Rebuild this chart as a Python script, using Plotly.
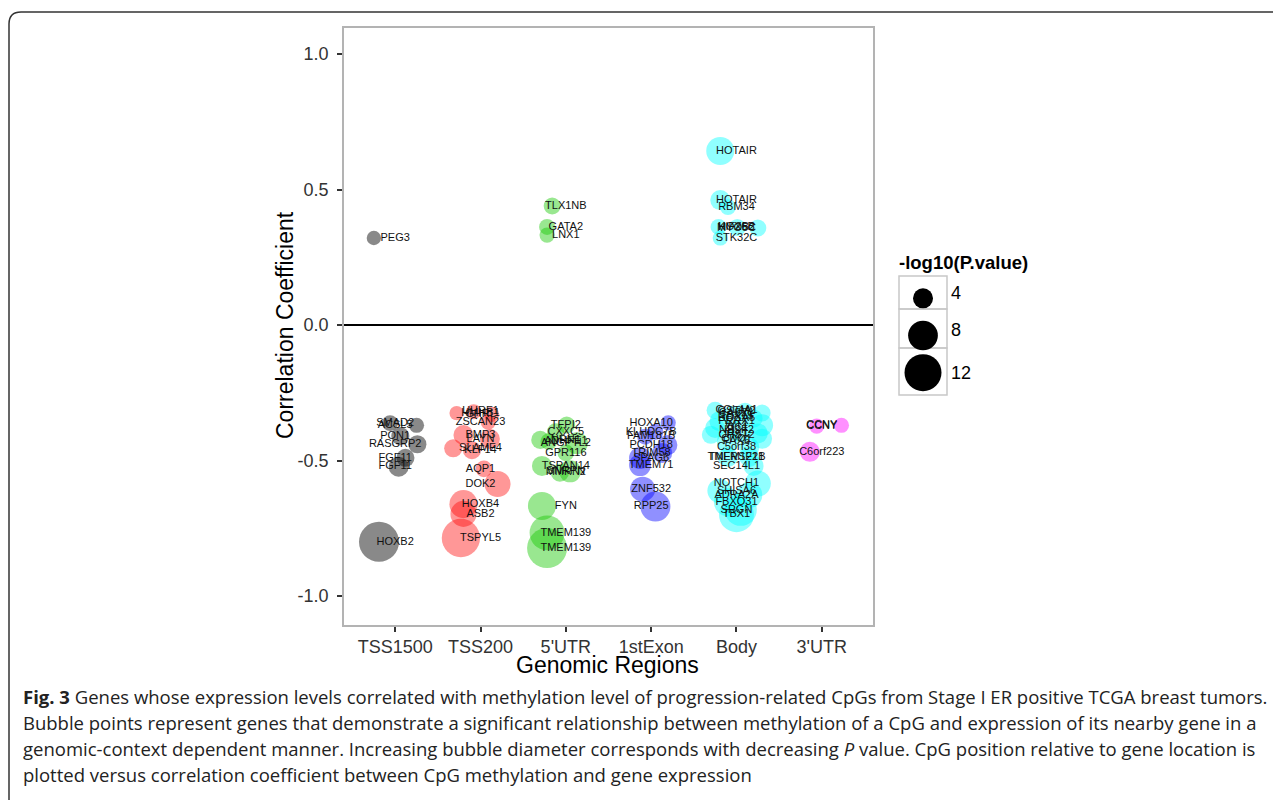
import plotly.graph_objects as go
import numpy as np

W, H = 1281, 800
OFF = 8  # page body margin offset


def px(x):
    return (x - OFF) / W


def py(y):
    return 1 - (y - OFF) / H


# ---------------- data ----------------
regions = ["TSS1500", "TSS200", "5'UTR", "1stExon", "Body", "3'UTR"]
region_colors = ["rgba(0,0,0,0.66)", "rgba(255,0,0,0.58)", "rgba(20,200,0,0.62)",
                 "rgba(0,0,255,0.62)", "rgba(0,255,255,0.62)", "rgba(255,0,255,0.62)"]

tss1500_genes = ["PEG3", "SMAD2", "ACSL5", "PON1", "RASGRP2", "FGF11", "FGF11", "HOXB2"]
tss1500_corr = [0.321, -0.362, -0.370, -0.410, -0.440, -0.490, -0.523, -0.800]
tss1500_logp = [2.4, 2.8, 2.6, 3.4, 3.4, 3.4, 4.0, 13.9]
tss1500_jitter = [-0.25, -0.06, 0.25, 0.06, 0.26, 0.12, 0.04, -0.19]

tss200_genes = ["HMHB1", "UHRF1", "GHRL", "ZSCAN23", "BMP3", "LAYN", "SLAMF4", "KLF14",
                "AQP1", "DOK2", "HOXB4", "ASB2", "TSPYL5"]
tss200_corr = [-0.325, -0.320, -0.330, -0.358, -0.406, -0.421, -0.455, -0.462,
               -0.531, -0.587, -0.661, -0.697, -0.786]
tss200_logp = [2.4, 2.6, 2.6, 2.6, 4.0, 4.0, 3.4, 3.4, 3.0, 6.3, 7.2, 6.3, 12.8]
tss200_jitter = [-0.28, -0.08, 0.13, 0.09, -0.20, 0.11, -0.32, -0.10, 0.04, 0.20, -0.20, -0.20, -0.23]

utr5_genes = ["TLX1NB", "GATA2", "LNX1", "TFPI2", "CXXC5", "NRN1", "ADHFE1", "ANGPTL2",
              "GPR116", "TSPAN14", "SNRPN", "MMRN2", "FYN", "TMEM139", "TMEM139"]
utr5_corr = [0.439, 0.362, 0.332, -0.369, -0.394, -0.424, -0.430, -0.436,
             -0.472, -0.520, -0.540, -0.545, -0.668, -0.767, -0.823]
utr5_logp = [3.1, 2.8, 2.6, 3.1, 3.1, 3.4, 3.0, 4.7, 3.0, 4.0, 4.7, 3.4, 7.2, 10.8, 13.9]
utr5_jitter = [-0.16, -0.22, -0.22, 0.01, -0.12, -0.30, -0.20, 0.13, 0.0, -0.28, 0.05, -0.07,
               -0.28, -0.22, -0.22]

exon1_genes = ["HOXA10", "KLHDC7B", "FAM181B", "PCDH18", "TRIM58", "SPAG6", "TMEM71",
               "ZNF532", "RPP25"]
exon1_corr = [-0.361, -0.394, -0.412, -0.443, -0.472, -0.491, -0.517, -0.606, -0.670]
exon1_logp = [2.6, 2.8, 2.8, 4.0, 4.0, 4.7, 4.7, 5.9, 8.1]
exon1_jitter = [0.20, 0.05, -0.07, 0.19, 0.13, -0.13, -0.13, -0.10, 0.05]

body_genes = ["HOTAIR", "HOTAIR", "RBM34", "HOXB2", "KIF26B", "MYO5C", "STK32C",
              "COL4A1", "GSTM2", "CASZ1", "TBX15", "HOXA5", "PRRX1", "WT1", "ZIC1",
              "NR2F2", "IRX1", "CHST2", "CDO1", "PAX6", "C5orf38", "TNFRSF21", "TMEM121B",
              "SEC14L1", "NOTCH1", "SHISA6", "ADRA2A", "FBXO31", "SRGN", "TBX1"]
body_corr = [0.642, 0.461, 0.435, 0.362, 0.360, 0.358, 0.321,
             -0.315, -0.320, -0.325, -0.335, -0.345, -0.355, -0.370, -0.380,
             -0.390, -0.400, -0.405, -0.420, -0.430, -0.452, -0.487, -0.487,
             -0.520, -0.585, -0.612, -0.627, -0.654, -0.682, -0.700]
body_logp = [7.2, 4.0, 2.8, 2.8, 3.1, 3.1, 2.6,
             3.1, 3.4, 3.1, 4.0, 3.4, 4.0, 4.7, 4.0,
             4.7, 4.0, 3.4, 4.0, 4.7, 4.0, 4.0, 4.0,
             4.0, 6.3, 5.5, 6.3, 7.2, 9.2, 10.8]
body_jitter = [-0.19, -0.19, -0.10, -0.21, 0.01, 0.25, -0.19,
               -0.25, 0.10, 0.30, -0.05, 0.20, -0.20, 0.30, -0.25,
               0.05, 0.25, -0.30, 0.30, -0.10, 0.15, -0.10, 0.15,
               0.20, 0.25, -0.20, 0.15, -0.10, 0.05, 0.0]

utr3_genes = ["CCNY", "CCNY", "C6orf223"]
utr3_corr = [-0.373, -0.370, -0.468]
utr3_logp = [2.6, 2.6, 4.0]
utr3_jitter = [-0.06, 0.23, -0.14]

legend_values = [4, 8, 12]

region_data = [
    (tss1500_genes, tss1500_corr, tss1500_logp, tss1500_jitter),
    (tss200_genes, tss200_corr, tss200_logp, tss200_jitter),
    (utr5_genes, utr5_corr, utr5_logp, utr5_jitter),
    (exon1_genes, exon1_corr, exon1_logp, exon1_jitter),
    (body_genes, body_corr, body_logp, body_jitter),
    (utr3_genes, utr3_corr, utr3_logp, utr3_jitter),
]


def bubble_diameter(v):
    v = np.asarray(v, dtype=float)
    return np.sqrt(np.maximum(121.0 * v - 84.0, 100.0))


fig = go.Figure()

# points
for i, (genes, corr, logp, jit) in enumerate(region_data):
    fig.add_trace(go.Scatter(
        x=[i + j for j in jit], y=corr, mode="markers",
        marker=dict(size=bubble_diameter(logp), color=region_colors[i], line=dict(width=0)),
        hoverinfo="skip", showlegend=False))

# labels
for i, (genes, corr, logp, jit) in enumerate(region_data):
    fig.add_trace(go.Scatter(
        x=[i] * len(genes), y=corr, mode="text", text=genes,
        textposition="middle center",
        textfont=dict(family="Liberation Sans, Arial", size=11, color="#111"),
        hoverinfo="skip", showlegend=False))

# size legend keys
legend_rows_y = [1, 2, 3]
fig.add_trace(go.Scatter(
    x=[0.5] * 3, y=legend_rows_y, mode="markers",
    marker=dict(size=bubble_diameter(legend_values), color="#000000", opacity=1,
                line=dict(width=0)),
    xaxis="x2", yaxis="y2", hoverinfo="skip", showlegend=False))

# ---------------- layout ----------------
plot_l, plot_r, plot_t, plot_b = 344, 873, 28, 625
tick_font = dict(family="Liberation Sans, Arial", size=18, color="#333")

fig.update_layout(
    width=W, height=H,
    margin=dict(l=0, r=0, t=0, b=0),
    paper_bgcolor="white", plot_bgcolor="white",
    xaxis=dict(domain=[px(plot_l), px(plot_r)], range=[-0.6, 5.6],
               tickmode="array", tickvals=list(range(len(regions))), ticktext=regions,
               showgrid=False, zeroline=False, showline=True, mirror=True,
               linecolor="#b3b3b3", linewidth=1.5,
               ticks="outside", ticklen=5, tickwidth=1.5, tickcolor="#333",
               tickfont=tick_font),
    yaxis=dict(domain=[py(plot_b), py(plot_t)], range=[-1.107, 1.096],
               tickmode="array", tickvals=[-1, -0.5, 0, 0.5, 1],
               ticktext=["-1.0", "-0.5", "0.0", "0.5", "1.0"],
               showgrid=False, zeroline=False, showline=True, mirror=True,
               linecolor="#b3b3b3", linewidth=1.5,
               ticks="outside", ticklen=5, tickwidth=1.5, tickcolor="#333",
               ticklabelstandoff=5,
               tickfont=tick_font),
    xaxis2=dict(domain=[px(899), px(947)], range=[0, 1], visible=False, fixedrange=True),
    yaxis2=dict(domain=[py(395), py(276)], range=[3.6, 0.4], visible=False, fixedrange=True,
                anchor="x2"),
)

shapes = []
# zero line
shapes.append(dict(type="line", xref="paper", yref="y", x0=px(plot_l), x1=px(plot_r),
                   y0=0, y1=0, line=dict(color="black", width=1.8), layer="above"))
# legend boxes
box_edges = [276, 309, 348, 395]
for k in range(3):
    shapes.append(dict(type="rect", xref="paper", yref="paper",
                       x0=px(899), x1=px(947), y0=py(box_edges[k + 1]), y1=py(box_edges[k]),
                       line=dict(color="#c8c8c8", width=1.5), fillcolor="rgba(0,0,0,0)",
                       layer="below"))
# outer rounded frame
path = (f"M {px(9)},{py(830)} L {px(9)},{py(24)} Q {px(9)},{py(12)} {px(21)},{py(12)} "
        f"L {px(1300)},{py(12)}")
shapes.append(dict(type="path", xref="paper", yref="paper", path=path,
                   line=dict(color="#333", width=1.5)))
fig.update_layout(shapes=shapes)

annotations = [
    dict(text="Correlation Coefficient", x=px(285), y=py(325), xref="paper", yref="paper",
         xanchor="center", yanchor="middle", textangle=-90, showarrow=False,
         font=dict(family="Liberation Sans, Arial", size=23, color="black")),
    dict(text="Genomic Regions", x=px(607), y=py(665), xref="paper", yref="paper",
         xanchor="center", yanchor="middle", showarrow=False,
         font=dict(family="Liberation Sans, Arial", size=23, color="black")),
    dict(text="<b>-log10(P.value)</b>", x=px(897), y=py(262), xref="paper", yref="paper",
         xanchor="left", yanchor="middle", showarrow=False,
         font=dict(family="Liberation Sans, Arial", size=18.5, color="black")),
]
legend_label_y = [293, 330, 373]
for v, yy in zip(legend_values, legend_label_y):
    annotations.append(dict(text=str(v), x=px(949), y=py(yy), xref="paper", yref="paper",
                            xanchor="left", yanchor="middle", showarrow=False,
                            font=dict(family="Liberation Sans, Arial", size=18, color="black")))

caption_lines = [
    "<b>Fig. 3</b> Genes whose expression levels correlated with methylation level of progression-related CpGs from Stage I ER positive TCGA breast tumors.",
    "Bubble points represent genes that demonstrate a significant relationship between methylation of a CpG and expression of its nearby gene in a",
    "genomic-context dependent manner. Increasing bubble diameter corresponds with decreasing <i>P</i> value. CpG position relative to gene location is",
    "plotted versus correlation coefficient between CpG methylation and gene expression",
]
caption_y = [696, 722, 748, 774]
for line, yy in zip(caption_lines, caption_y):
    annotations.append(dict(text=line, x=px(21), y=py(yy), xref="paper", yref="paper",
                            xanchor="left", yanchor="middle", showarrow=False,
                            font=dict(family="Open Sans", size=18.5, color="#222")))
fig.update_layout(annotations=annotations)

fig.write_html("out.html")
